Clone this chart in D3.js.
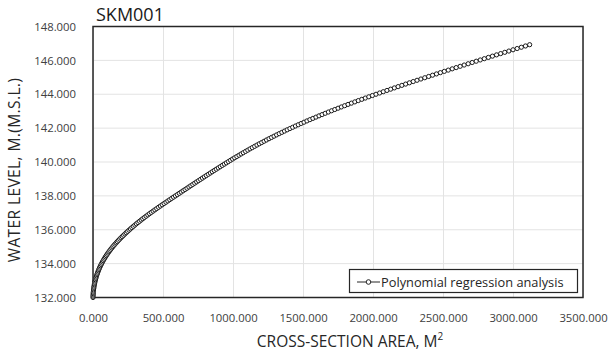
<!DOCTYPE html>
<html>
<head>
  <script src="https://d3js.org/d3.v7.min.js"></script>
  <style>
    body { margin: 0; background: #fff; }
    text { font-family: "Open Sans", "Noto Sans", sans-serif; }
    .grid line { stroke: #e3e3e3; stroke-width: 1; }
    .tick-label { font-size: 11.3px; fill: #404040; }
  </style>
</head>
<body>
  <script>
    var width = 608,
        height = 353;

    var chartTitle = "SKM001";
    var xTitle = "CROSS-SECTION AREA, M";
    var yTitle = "WATER LEVEL, M.(M.S.L.)";
    var seriesName = "Polynomial regression analysis";

    var xTicks = [0, 500, 1000, 1500, 2000, 2500, 3000, 3500];
    var yTicks = [132, 134, 136, 138, 140, 142, 144, 146, 148];

    // water level (m) of each point
    var levels = [
      132.000, 132.075, 132.150, 132.225, 132.300, 132.375, 132.450, 132.525, 132.600, 132.675,
      132.750, 132.825, 132.900, 132.975, 133.050, 133.125, 133.200, 133.275, 133.350, 133.425,
      133.500, 133.575, 133.650, 133.725, 133.800, 133.875, 133.950, 134.025, 134.100, 134.175,
      134.250, 134.325, 134.400, 134.475, 134.550, 134.625, 134.700, 134.775, 134.850, 134.925,
      135.000, 135.075, 135.150, 135.225, 135.300, 135.375, 135.450, 135.525, 135.600, 135.675,
      135.750, 135.825, 135.900, 135.975, 136.050, 136.125, 136.200, 136.275, 136.350, 136.425,
      136.500, 136.575, 136.650, 136.725, 136.800, 136.875, 136.950, 137.025, 137.100, 137.175,
      137.250, 137.325, 137.400, 137.475, 137.550, 137.625, 137.700, 137.775, 137.850, 137.925,
      138.000, 138.075, 138.150, 138.225, 138.300, 138.375, 138.450, 138.525, 138.600, 138.675,
      138.750, 138.825, 138.900, 138.975, 139.050, 139.125, 139.200, 139.275, 139.350, 139.425,
      139.500, 139.575, 139.650, 139.725, 139.800, 139.875, 139.950, 140.025, 140.100, 140.175,
      140.250, 140.325, 140.400, 140.475, 140.550, 140.625, 140.700, 140.775, 140.850, 140.925,
      141.000, 141.075, 141.150, 141.225, 141.300, 141.375, 141.450, 141.525, 141.600, 141.675,
      141.750, 141.825, 141.900, 141.975, 142.050, 142.125, 142.200, 142.275, 142.350, 142.425,
      142.500, 142.575, 142.650, 142.725, 142.800, 142.875, 142.950, 143.025, 143.100, 143.175,
      143.250, 143.325, 143.400, 143.475, 143.550, 143.625, 143.700, 143.775, 143.850, 143.925,
      144.000, 144.075, 144.150, 144.225, 144.300, 144.375, 144.450, 144.525, 144.600, 144.675,
      144.750, 144.825, 144.900, 144.975, 145.050, 145.125, 145.200, 145.275, 145.350, 145.425,
      145.500, 145.575, 145.650, 145.725, 145.800, 145.875, 145.950, 146.025, 146.100, 146.175,
      146.250, 146.325, 146.400, 146.475, 146.550, 146.625, 146.700, 146.775, 146.850, 146.925
    ];

    // cross-section area (m2) of each point
    var areas = [
      0, 0.3, 0.7, 1.3, 2.0, 2.8, 3.8, 4.9, 6.2, 7.6,
      9.2, 11.0, 12.9, 15.0, 17.3, 19.7, 22.4, 25.1, 28.1, 31.2,
      34.5, 38.0, 41.6, 45.5, 49.5, 53.8, 58.2, 62.8, 67.6, 72.7,
      77.9, 83.3, 88.9, 94.8, 100.8, 107.1, 113.6, 120.3, 127.2, 134.4,
      141.8, 149.4, 157.2, 165.3, 173.6, 182.1, 190.8, 199.8, 208.9, 218.2,
      227.7, 237.3, 247.2, 257.1, 267.3, 277.6, 288.2, 298.9, 309.8, 320.9,
      332.3, 343.7, 355.4, 367.3, 379.3, 391.5, 403.9, 416.5, 429.2, 442.0,
      454.9, 467.9, 481.1, 494.3, 507.7, 521.1, 534.5, 548.0, 561.5, 575.1,
      589.0, 602.7, 616.3, 630.0, 643.7, 657.5, 671.2, 685.0, 698.7, 712.5,
      726.3, 740.2, 754.0, 767.9, 781.8, 795.7, 809.7, 823.8, 837.9, 852.0,
      866.3, 880.5, 894.9, 909.3, 923.7, 938.2, 952.8, 967.4, 982.1, 997.0,
      1012.1, 1027.3, 1042.7, 1058.2, 1073.8, 1089.6, 1105.6, 1121.7, 1138.0, 1154.4,
      1171.0, 1187.8, 1204.8, 1222.0, 1239.4, 1257.1, 1275.0, 1293.1, 1311.4, 1330.0,
      1348.8, 1367.8, 1387.0, 1406.5, 1426.2, 1446.1, 1466.3, 1486.7, 1507.3, 1528.2,
      1549.4, 1570.8, 1592.4, 1614.3, 1636.4, 1658.7, 1681.3, 1704.1, 1727.2, 1750.5,
      1774.0, 1797.7, 1821.7, 1845.9, 1870.3, 1894.9, 1919.8, 1944.9, 1970.2, 1995.7,
      2021.5, 2047.4, 2073.5, 2099.8, 2126.1, 2152.6, 2179.3, 2206.1, 2233.0, 2260.1,
      2287.3, 2314.6, 2342.1, 2369.8, 2397.5, 2425.4, 2453.3, 2481.3, 2509.4, 2537.6,
      2565.9, 2594.2, 2622.7, 2651.2, 2679.8, 2708.5, 2737.3, 2766.1, 2795.1, 2824.1,
      2853.2, 2882.4, 2911.7, 2941.1, 2970.5, 3000.1, 3029.7, 3059.4, 3089.2, 3119.0
    ];

    var points = levels.map(function(h, i) { return { a: areas[i], h: h }; });

    var plot = { left: 93, right: 583, top: 26.5, bottom: 297.5 };

    var x = d3.scaleLinear().domain([0, 3500]).range([plot.left, plot.right]);
    var y = d3.scaleLinear().domain([132, 148]).range([plot.bottom, plot.top]);
    var fmt = d3.format(".3f");

    var svg = d3.select("body").append("svg")
      .attr("width", width).attr("height", height);

    // gridlines
    var grid = svg.append("g").attr("class", "grid");
    grid.selectAll("line.v").data(xTicks).enter().append("line")
      .attr("x1", function(d) { return x(d) + 0.5; })
      .attr("x2", function(d) { return x(d) + 0.5; })
      .attr("y1", plot.top).attr("y2", plot.bottom);
    grid.selectAll("line.h").data(yTicks).enter().append("line")
      .attr("x1", plot.left).attr("x2", plot.right)
      .attr("y1", function(d) { return y(d); })
      .attr("y2", function(d) { return y(d); });

    // plot border
    svg.append("rect")
      .attr("x", plot.left).attr("y", plot.top)
      .attr("width", plot.right - plot.left).attr("height", plot.bottom - plot.top)
      .attr("fill", "none").attr("stroke", "#262626").attr("stroke-width", 1.5);

    // axes (labels only, lines are the border)
    var xAxis = d3.axisBottom(x).tickValues(xTicks).tickSize(0).tickPadding(16).tickFormat(fmt);
    svg.append("g").attr("transform", "translate(0," + plot.bottom + ")")
      .call(xAxis)
      .call(function(g) { g.select(".domain").remove(); })
      .selectAll("text").attr("class", "tick-label")
      .style("font-family", "'Open Sans', sans-serif");

    var yAxis = d3.axisLeft(y).tickValues(yTicks).tickSize(0).tickPadding(17).tickFormat(fmt);
    svg.append("g").attr("transform", "translate(" + plot.left + ",0)")
      .call(yAxis)
      .call(function(g) { g.select(".domain").remove(); })
      .selectAll("text").attr("class", "tick-label")
      .style("font-family", "'Open Sans', sans-serif");

    // series line + markers
    var line = d3.line().x(function(d) { return x(d.a); }).y(function(d) { return y(d.h); });
    svg.append("path").datum(points)
      .attr("d", line).attr("fill", "none")
      .attr("stroke", "#1a1a1a").attr("stroke-width", 1);

    svg.append("g").selectAll("circle").data(points).enter().append("circle")
      .attr("cx", function(d) { return x(d.a); })
      .attr("cy", function(d) { return y(d.h); })
      .attr("r", 2.1)
      .attr("fill", "#fff")
      .attr("stroke", "#1a1a1a")
      .attr("stroke-width", 1);

    // title
    svg.append("text").attr("x", 96).attr("y", 20.5)
      .attr("font-size", 18).attr("fill", "#1a1a1a")
      .text(chartTitle);

    // axis titles
    var xt = svg.append("text")
      .attr("x", 350).attr("y", 347)
      .attr("text-anchor", "middle").attr("font-size", 15.5).attr("fill", "#262626")
      .text(xTitle);
    xt.append("tspan").attr("font-size", 10).attr("dy", -7).text("2");

    svg.append("text")
      .attr("transform", "translate(20,170) rotate(-90)")
      .attr("text-anchor", "middle").attr("font-size", 15.5).attr("fill", "#262626")
      .attr("letter-spacing", 0.4)
      .text(yTitle);

    // legend
    var lg = svg.append("g");
    lg.append("rect")
      .attr("x", 349.5).attr("y", 269.5).attr("width", 228).attr("height", 23)
      .attr("fill", "#fff").attr("stroke", "#262626").attr("stroke-width", 1.2);
    lg.append("line")
      .attr("x1", 357).attr("x2", 380).attr("y1", 282).attr("y2", 282)
      .attr("stroke", "#262626").attr("stroke-width", 1);
    lg.append("circle").attr("cx", 368.5).attr("cy", 282).attr("r", 2.3)
      .attr("fill", "#fff").attr("stroke", "#262626").attr("stroke-width", 1);
    lg.append("text").attr("x", 381).attr("y", 286.5)
      .attr("font-size", 12.8).attr("fill", "#262626")
      .text(seriesName);
  </script>
</body>
</html>
